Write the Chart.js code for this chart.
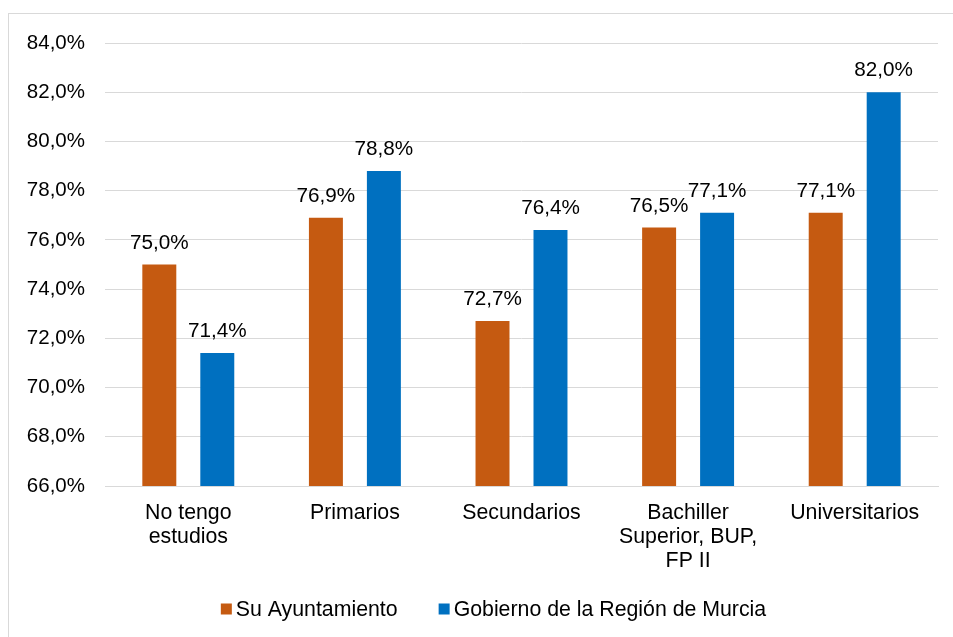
<!DOCTYPE html>
<html>
<head>
<meta charset="utf-8">
<script src="https://cdn.jsdelivr.net/npm/chart.js@4/dist/chart.umd.min.js"></script>
<style>
  html, body { margin: 0; padding: 0; background: #fff; }
  #wrap { width: 953px; height: 637px; }
</style>
</head>
<body>
<div id="wrap"><canvas id="chart" width="953" height="637"></canvas></div>
<script>
const categories = [
  ['No tengo', 'estudios'],
  'Primarios',
  'Secundarios',
  ['Bachiller', 'Superior, BUP,', 'FP II'],
  'Universitarios',
];
const seriesNames = ['Su Ayuntamiento', 'Gobierno de la Región de Murcia'];
const ayuntamiento = [75.0, 76.9, 72.7, 76.5, 77.1];
const gobierno = [71.4, 78.8, 76.4, 77.1, 82.0];
const colors = ['#C55A11', '#0070C0'];

const FONT = "'Liberation Sans', Arial, sans-serif";
const fmt = (v) => v.toFixed(1).replace('.', ',') + '%';

// outer frame, cut by the window on the right and bottom
const framePlugin = {
  id: 'frame',
  beforeDraw(chart) {
    const ctx = chart.ctx;
    ctx.save();
    ctx.strokeStyle = '#d9d9d9';
    ctx.lineWidth = 1;
    ctx.strokeRect(8.5, 13.5, 1000, 1000);
    ctx.restore();
  },
};

// values above each bar
const valueLabels = {
  id: 'valueLabels',
  afterDatasetsDraw(chart) {
    const ctx = chart.ctx;
    ctx.save();
    ctx.font = '20.7px ' + FONT;
    ctx.fillStyle = '#000';
    ctx.textAlign = 'center';
    ctx.textBaseline = 'alphabetic';
    chart.data.datasets.forEach((ds, i) => {
      chart.getDatasetMeta(i).data.forEach((bar, j) => {
        ctx.fillText(fmt(ds.data[j]), bar.x, bar.y - 16);
      });
    });
    ctx.restore();
  },
};

// legend with a small gap between the square and its text
const legendPlugin = {
  id: 'customLegend',
  afterDraw(chart) {
    const ctx = chart.ctx;
    ctx.save();
    ctx.font = '21.3px ' + FONT;
    ctx.textBaseline = 'middle';
    const box = 11, gap = 4, spacing = 41;
    const widths = seriesNames.map((n) => ctx.measureText(n).width);
    const total = widths.reduce((a, w) => a + box + gap + w, 0) + spacing;
    let x = 493.5 - total / 2;
    const y = 609;
    seriesNames.forEach((name, i) => {
      ctx.fillStyle = colors[i];
      ctx.fillRect(x, y - 5.5, box, box);
      ctx.fillStyle = '#000';
      ctx.fillText(name, x + box + gap, y + 1);
      x += box + gap + widths[i] + spacing;
    });
    ctx.restore();
  },
};

new Chart(document.getElementById('chart'), {
  type: 'bar',
  data: {
    labels: categories,
    datasets: [
      {label: seriesNames[0], data: ayuntamiento, backgroundColor: colors[0]},
      {label: seriesNames[1], data: gobierno, backgroundColor: colors[1]},
    ],
  },
  options: {
    responsive: false,
    animation: false,
    devicePixelRatio: 1,
    categoryPercentage: 0.696,
    barPercentage: 0.586,
    layout: {padding: {left: 0, right: 15, top: 43, bottom: 60}},
    plugins: {
      legend: {display: false},
      tooltip: {enabled: false},
    },
    scales: {
      x: {
        grid: {display: false},
        border: {display: true, color: '#d9d9d9'},
        ticks: {
          color: '#000',
          padding: 7,
          maxRotation: 0,
          autoSkip: false,
          font: {family: FONT, size: 21.3, lineHeight: '24px'},
        },
        afterFit: (scale) => {
          scale.height = 637 - 60 - 486;
        },
      },
      y: {
        min: 66,
        max: 84,
        grid: {color: '#d9d9d9', lineWidth: 1, drawTicks: false},
        border: {display: false},
        ticks: {
          stepSize: 2,
          color: '#000',
          padding: 20,
          font: {family: FONT, size: 20.5},
          callback: (v) => fmt(v),
        },
        afterFit: (scale) => {
          scale.width = 105;
        },
      },
    },
  },
  plugins: [framePlugin, valueLabels, legendPlugin],
});
</script>
</body>
</html>
